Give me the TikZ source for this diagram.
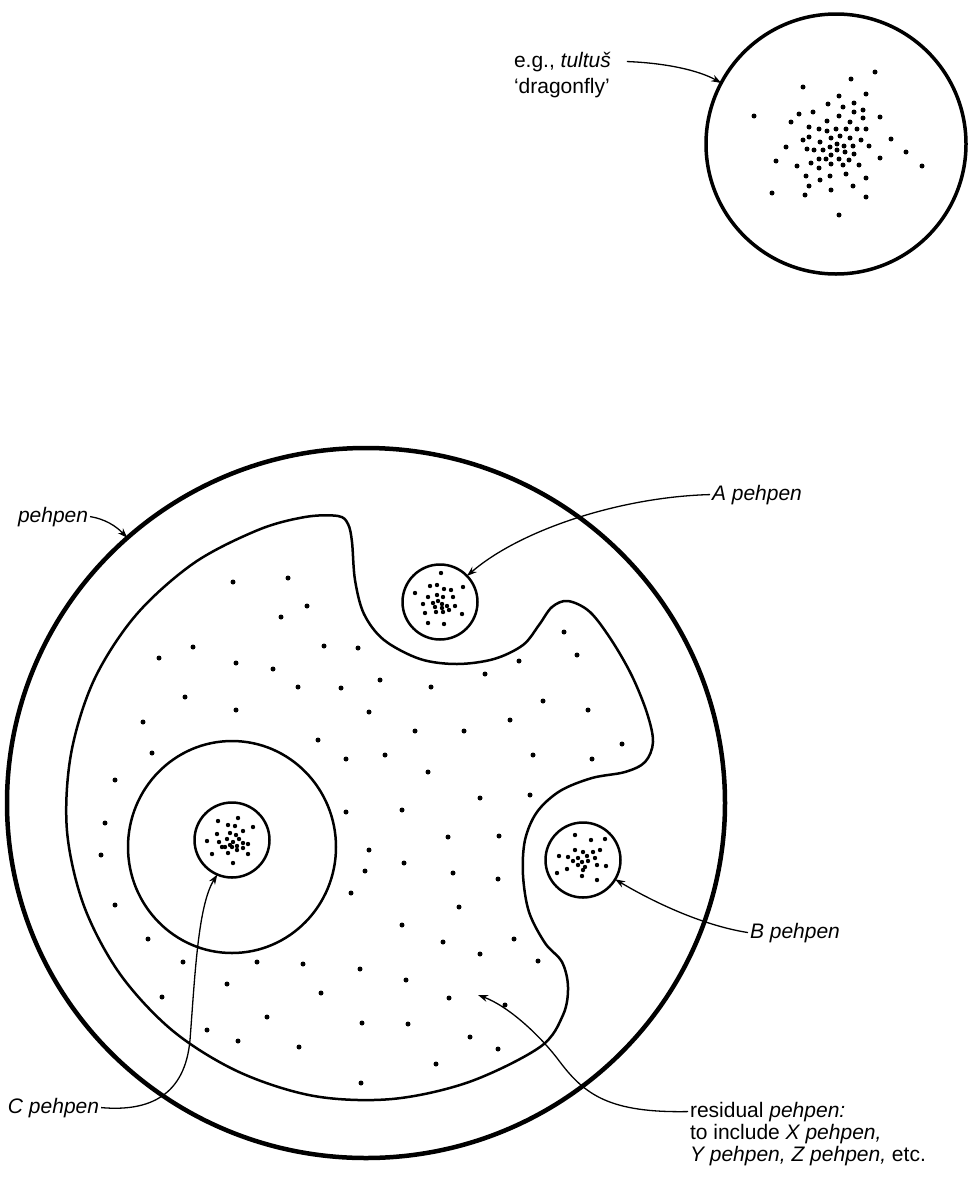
\documentclass[tikz,border=0pt]{standalone}
\usepackage{fontspec}
\setmainfont{Liberation Sans}
\usepackage{tikz}
\usetikzlibrary{shapes,arrows.meta,positioning}

\tikzset{
  lbl/.style={font=\fontsize{21}{23}\selectfont, inner sep=0pt, outer sep=2pt},
  pointer/.style={line width=1.3pt, -{Stealth[length=10pt,width=7pt]}},
  kin/.style={circle, draw, line width=2.5pt, minimum size=75pt, inner sep=0pt, outer sep=0pt},
  spot/.style={fill=black},
}

\begin{document}
\begin{tikzpicture}[x=1pt,y=-1pt]
    \useasboundingbox (0,0) rectangle (968,1186);
    \node[circle, draw, line width=3.5pt, minimum size=260pt, inner sep=0pt, outer sep=0pt] (dragon) at (836,144) {};
    \foreach \p in {(754,116),(803,87),(851,79),(875,72),(839,96),(866,94),(828,104),(854,103),(799,114),(813,112),
      (843,107),(854,112),(863,110),(791,122),(827,121),(839,116),(850,122),(863,118),(880,117),(809,127),
      (819,129),(827,131),(836,129),(846,129),(857,129),(866,129),(803,140),(809,137),(820,142),(831,138),
      (840,136),(850,138),(861,140),(891,139),(786,147),(807,149),(814,150),(823,150),(830,147),(837,144),
      (844,146),(853,146),(869,146),(837,150),(845,152),(831,155),(854,154),(906,152),(776,161),(819,159),
      (826,159),(839,159),(849,160),(880,158),(811,163),(831,164),(797,166),(819,168),(843,165),(859,165),
      (922,166),(806,176),(830,176),(846,174),(866,178),(820,180),(809,186),(831,190),(853,186),(772,193),
      (805,195),(866,197),(839,215)}
      \fill[spot] \p circle[radius=2.5pt];
    \node[lbl, anchor=base west] (eg) at (512,67) {e.g., \textit{tultuš}};
    \node[lbl, anchor=base west] (gloss) at (512,93) {‘dragonfly’};
    \draw[pointer] ([xshift=14pt]eg.east) .. controls (665,63) and (698,70) .. (dragon.152);

    \node[ellipse, draw, line width=4.5pt, minimum width=718pt, minimum height=710pt, inner sep=0pt, outer sep=0pt] (outer) at (366,803) {};
    \draw[line width=2.5pt] plot[smooth cycle, tension=0.55] coordinates {
      (338,516) (348,524) (352,542) (355,580) (364,614) (384,640) (420,659) (457,664) (494,659) (523,645)
      (539,625) (552,607) (568,601) (590,612) (612,641) (632,676) (647,713) (653,742) (645,762) (625,772)
      (592,778) (560,791) (537,812) (525,840) (523,875) (529,912) (545,943) (562,962) (568,987) (563,1015)
      (540,1047) (469,1082) (392,1099) (314,1096) (239,1072) (173,1031) (120,974) (84,906) (67,831) (71,754)
      (94,680) (136,615) (194,563) (258,530) (305,517)};
    \draw[line width=2.5pt] (232,847) ellipse[x radius=104, y radius=106];
    \foreach \p in {(233,582),(288,578),(307,606),(281,617),(193,647),(159,658),(324,646),(358,648),(236,663),(273,669),
      (298,687),(341,688),(380,680),(431,687),(485,674),(519,661),(564,632),(577,655),(185,697),(236,710),
      (369,712),(415,731),(464,731),(510,720),(543,701),(588,710),(143,722),(318,740),(346,759),(385,755),
      (428,772),(533,755),(592,759),(622,744),(152,753),(115,780),(480,798),(530,795),(346,812),(402,810),
      (105,823),(448,837),(499,836),(101,855),(369,850),(404,863),(365,871),(453,873),(498,879),(351,893),
      (459,907),(115,905),(402,925),(443,942),(514,939),(148,939),(480,954),(183,962),(257,962),(303,964),
      (360,969),(538,961),(227,984),(406,980),(321,993),(449,998),(505,1005),(162,997),(267,1017),(362,1023),
      (408,1024),(207,1030),(238,1041),(299,1047),(470,1037),(498,1049),(436,1064),(361,1083)}
      \fill[spot] \p circle[radius=2.5pt];

    \node[kin] (kinA) at (440,602) {};
    \node[kin] (kinB) at (583,860) {};
    \node[kin] (kinC) at (232,840) {};
    \foreach \p in {(441,573),(415,593),(430,586),(437,585),(444,589),(451,590),(463,587),(428,597),(437,595),(443,597),
      (453,597),(423,604),(433,603),(438,601),(442,604),(447,606),(455,606),(435,607),(442,608),(425,613),
      (436,612),(443,612),(449,610),(462,614),(428,623),(444,624),
      (575,835),(591,840),(605,839),(583,852),(575,850),(593,852),(600,850),(559,856),(568,857),(578,858),
      (587,856),(595,858),(573,861),(582,862),(588,861),(578,865),(585,867),(597,865),(606,866),(557,873),
      (567,869),(583,870),(582,876),(597,880),
      (238,818),(218,821),(228,825),(235,826),(253,827),(217,834),(230,833),(236,835),(243,831),(207,841),
      (227,839),(233,842),(239,839),(219,842),(230,845),(225,847),(237,846),(243,843),(248,844),(212,854),
      (228,853),(237,850),(243,848),(248,854),(233,863),(222,847),(232,847)}
      \fill[spot] \p circle[radius=2.2pt];

    \node[lbl, anchor=base west] (peh) at (16,522) {\textit{pehpen}};
    \node[lbl, anchor=base west] (lblA) at (710,500) {\textit{A pehpen}};
    \node[lbl, anchor=base west] (lblB) at (748,938) {\textit{B pehpen}};
    \node[lbl, anchor=base west] (lblC) at (6,1113) {\textit{C pehpen}};
    \node[lbl, anchor=base west] (res) at (688,1117) {residual \textit{pehpen:}};
    \node[lbl, anchor=base west] (resX) at (688,1139) {to include \textit{X pehpen,}};
    \node[lbl, anchor=base west] (resY) at (688,1161) {\textit{Y pehpen, Z pehpen,} etc.};
    \coordinate (restip) at (478,995);

    \draw[pointer] (peh.east) .. controls (105,519) and (116,526) .. (outer.132);
    \draw[pointer] (lblA.west) .. controls (620,497) and (520,530) .. (kinA.44);
    \draw[pointer] (lblB.west) .. controls (700,925) and (650,900) .. (kinB.-31);
    \draw[pointer] (lblC.east) .. controls (150,1112) and (185,1095) .. (190,1040)
      .. controls (195,975) and (198,905) .. (kinC.247);
    \draw[pointer] (res.west) .. controls (610,1113) and (585,1095) .. (560,1062)
      .. controls (540,1035) and (508,1006) .. (restip);
  \end{tikzpicture}
\end{document}
